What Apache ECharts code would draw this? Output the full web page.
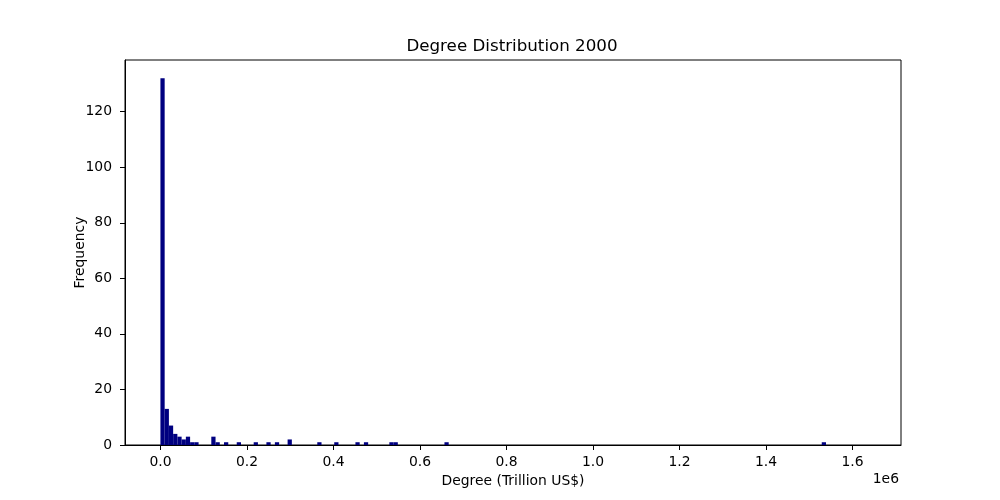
<!DOCTYPE html>
<html>
<head>
<meta charset="utf-8">
<script src="https://cdn.jsdelivr.net/npm/echarts@6/dist/echarts.min.js"></script>
<style>
  html, body { margin: 0; padding: 0; background: #fff; }
  #chart { width: 1000px; height: 500px; }
</style>
</head>
<body>
<div id="chart"></div>
<script>
// histogram bins (bin index from 0, fixed bin width) and their counts
const binWidth = 9800;
const binIndex = [0, 1, 2, 3, 4, 5, 6, 7, 8, 12, 13, 15, 18, 22, 25, 27, 30, 37, 41, 46, 48, 54, 55, 67, 156];
const counts = [132, 13, 7, 4, 3, 2, 3, 1, 1, 3, 1, 1, 1, 1, 1, 1, 2, 1, 1, 1, 1, 1, 1, 1, 1];

const xTicks = [0, 200000, 400000, 600000, 800000, 1000000, 1200000, 1400000, 1600000];
const yTicks = [0, 20, 40, 60, 80, 100, 120];

const font = 'DejaVu Sans';
const chart = echarts.init(document.getElementById('chart'), null, { renderer: 'canvas' });

var bars = binIndex.map(function (b, i) {
  return [b * binWidth, (b + 1) * binWidth, counts[i]];
});

var option = {
  animation: false,
  backgroundColor: '#fff',
  title: {
    text: 'Degree Distribution 2000',
    left: 507,
    top: 33,
    textAlign: 'center',
    textStyle: { fontFamily: font, fontSize: 16.7, fontWeight: 'normal', color: '#000' }
  },
  grid: {
    left: 125, right: 99, top: 60, bottom: 55,
    show: true, borderColor: '#000', borderWidth: 1
  },
  xAxis: {
    type: 'value',
    min: -81900,
    max: 1712000,
    name: 'Degree (Trillion US$)',
    nameLocation: 'middle',
    nameGap: 29,
    nameMoveOverlap: false,
    nameTextStyle: { fontFamily: font, fontSize: 13.9, color: '#000' },
    axisLine: { show: true, onZero: false, lineStyle: { color: '#000', width: 1 } },
    axisTick: { show: true, length: 5, customValues: xTicks, lineStyle: { color: '#000' } },
    axisLabel: {
      customValues: xTicks,
      margin: 10,
      fontFamily: font, fontSize: 13.9, color: '#000',
      formatter: function (v) { return (v / 1e6).toFixed(1); }
    },
    splitLine: { show: false }
  },
  yAxis: {
    type: 'value',
    min: 0,
    max: 138.6,
    name: 'Frequency',
    nameLocation: 'middle',
    nameGap: 38,
    nameMoveOverlap: false,
    nameTextStyle: { fontFamily: font, fontSize: 13.9, color: '#000' },
    axisLine: { show: true, onZero: false, lineStyle: { color: '#000', width: 1 } },
    axisTick: { show: true, length: 5, customValues: yTicks, lineStyle: { color: '#000' } },
    axisLabel: {
      customValues: yTicks,
      margin: 13,
      fontFamily: font, fontSize: 13.9, color: '#000'
    },
    splitLine: { show: false }
  },
  graphic: [{
    type: 'text',
    x: 899,
    y: 472,
    style: {
      text: '1e6',
      fontFamily: font, fontSize: 13.9, fill: '#000',
      textAlign: 'right', textVerticalAlign: 'top'
    }
  }],
  series: [{
    type: 'custom',
    data: bars,
    encode: { x: [0, 1], y: 2 },
    renderItem: function (params, api) {
      var p0 = api.coord([api.value(0), api.value(2)]);
      var p1 = api.coord([api.value(1), 0]);
      return {
        type: 'rect',
        shape: { x: p0[0], y: p0[1], width: p1[0] - p0[0], height: p1[1] - p0[1] },
        style: { fill: '#000080' }
      };
    }
  }]
};

chart.setOption(option);
</script>
</body>
</html>
